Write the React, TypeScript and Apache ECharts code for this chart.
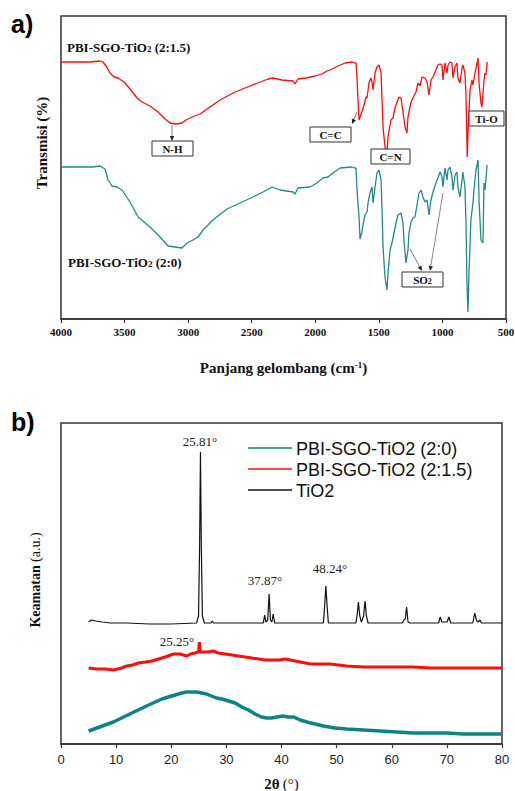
import React, { useEffect, useRef } from 'react';
import * as echarts from 'echarts';

// ---------- Panel a) FTIR ----------
const ftirXTicks = [4000, 3500, 3000, 2500, 2000, 1500, 1000, 500];

// [wavenumber cm-1, transmittance a.u.]
const ftirRed: [number, number][] = [
  [4000, 257], [3890, 257], [3772, 257], [3693, 258], [3670, 257], [3646, 253], [3615, 246], [3583, 242],
  [3552, 241], [3505, 237], [3457, 230], [3402, 221], [3363, 217], [3300, 213], [3237, 207], [3182, 200],
  [3143, 196], [3096, 195], [3048, 196], [3017, 199], [2970, 202], [2907, 205], [2828, 212], [2750, 219],
  [2647, 226], [2553, 231], [2451, 236], [2372, 240], [2333, 241], [2262, 239], [2175, 238], [2160, 235],
  [2136, 240], [2073, 241], [2002, 243], [1947, 245], [1908, 248], [1884, 249], [1837, 252], [1767, 256],
  [1711, 257], [1690, 256], [1680, 256], [1672, 242], [1664, 219], [1656, 199], [1633, 207], [1617, 214],
  [1601, 222], [1593, 221], [1578, 236], [1562, 241], [1554, 237], [1546, 229], [1530, 246], [1515, 252],
  [1499, 254], [1483, 246], [1475, 219], [1467, 192], [1452, 172], [1436, 167], [1428, 182], [1405, 199],
  [1389, 201], [1373, 211], [1357, 217], [1342, 222], [1326, 221], [1310, 207], [1294, 192], [1279, 186],
  [1271, 202], [1247, 217], [1232, 221], [1208, 227], [1192, 236], [1176, 233], [1161, 242], [1137, 241],
  [1121, 237], [1106, 224], [1090, 239], [1074, 242], [1051, 249], [1035, 254], [1019, 255], [1003, 254],
  [996, 239], [980, 256], [964, 246], [956, 254], [941, 257], [925, 256], [917, 241], [901, 252],
  [886, 256], [878, 241], [862, 236], [846, 251], [839, 254], [823, 246], [815, 226], [805, 162],
  [797, 192], [783, 229], [768, 239], [760, 234], [744, 246], [728, 256], [720, 261], [712, 236],
  [697, 216], [689, 212], [673, 239], [665, 246], [657, 244], [649, 257],
];

const ftirTeal: [number, number][] = [
  [4000, 152], [3748, 152], [3693, 153], [3654, 150], [3630, 139], [3599, 133], [3560, 132], [3520, 129],
  [3457, 117], [3394, 102], [3300, 92], [3221, 82], [3158, 73], [3103, 72], [3048, 71], [3009, 76],
  [2962, 79], [2922, 82], [2883, 89], [2805, 99], [2694, 110], [2592, 116], [2490, 122], [2411, 127],
  [2340, 132], [2277, 129], [2175, 127], [2160, 125], [2136, 131], [2042, 132], [1987, 136], [1939, 141],
  [1900, 142], [1861, 146], [1806, 151], [1711, 152], [1690, 151], [1680, 151], [1672, 129], [1656, 102],
  [1648, 80], [1633, 87], [1625, 94], [1609, 104], [1593, 107], [1585, 116], [1570, 126], [1554, 132],
  [1546, 116], [1530, 132], [1515, 146], [1499, 149], [1483, 139], [1475, 109], [1467, 72], [1452, 42],
  [1436, 29], [1428, 46], [1412, 69], [1397, 76], [1381, 86], [1365, 96], [1350, 104], [1326, 106],
  [1310, 96], [1302, 77], [1287, 56], [1271, 69], [1263, 86], [1247, 97], [1232, 101], [1216, 102],
  [1200, 114], [1184, 126], [1168, 129], [1153, 122], [1137, 117], [1121, 119], [1106, 104], [1090, 119],
  [1074, 127], [1051, 136], [1035, 141], [1019, 147], [1003, 142], [996, 132], [980, 151], [964, 139],
  [956, 149], [941, 152], [925, 142], [917, 129], [901, 144], [886, 147], [878, 132], [862, 122],
  [846, 139], [839, 147], [823, 132], [815, 99], [807, 36], [799, 7], [791, 46], [776, 99],
  [760, 116], [752, 129], [736, 149], [720, 159], [712, 119], [697, 79], [681, 76], [673, 136],
  [665, 129], [649, 154],
];

// ---------- Panel b) XRD ----------
const xrdXTicks = [0, 10, 20, 30, 40, 50, 60, 70, 80];
const xrdNames = ['PBI-SGO-TiO2 (2:0)', 'PBI-SGO-TiO2 (2:1.5)', 'TiO2'];

// [2theta, intensity a.u.]
const xrdTeal: [number, number][] = [
  [5, 13], [6.5, 16], [8, 19], [9.5, 22], [11, 26], [12.5, 30], [14, 34], [15.5, 38], [17.1, 42],
  [18.3, 45], [19.5, 47], [20.7, 49], [21.9, 51], [22.8, 52], [23.7, 52], [24.6, 52], [25.5, 51],
  [26.4, 50], [27.3, 48], [28.2, 46], [29.2, 45], [30.4, 43], [31.6, 41], [32.8, 37], [34, 34],
  [35.2, 30], [36.4, 27], [37.3, 26], [38.2, 26], [39.2, 27], [40.2, 28], [41.2, 27], [42.2, 27],
  [43.4, 24], [44.6, 22], [46.1, 20], [47.6, 18], [49.7, 16], [51.8, 15], [54.9, 14], [57.9, 13],
  [60.9, 12], [63.9, 11], [67, 11], [70, 11], [73, 10], [76, 10], [80, 10],
];

const xrdRed: [number, number][] = [
  [5, 76], [6.5, 75], [8, 75], [9.5, 74], [11, 76], [11.9, 78], [13, 79], [14, 81], [15.3, 82],
  [16.5, 83], [17.7, 85], [18.9, 87], [20.4, 90], [21.6, 90], [22.8, 88], [23.5, 90], [24.3, 91],
  [24.95, 92], [25.1, 102], [25.25, 92], [25.6, 92], [26.7, 92], [27.6, 93], [28.5, 91], [29.8, 90],
  [31, 89], [32.2, 88], [33.4, 87], [34.6, 86], [35.8, 85], [37, 84], [38.2, 84], [39.7, 84],
  [40.7, 85], [41.6, 84], [42.5, 83], [43.4, 82], [44.3, 81], [45.2, 80], [47, 80], [48.8, 80],
  [50.3, 79], [51.8, 78], [54.9, 77], [57.9, 77], [60.9, 77], [63.9, 77], [67, 76], [70, 76],
  [73, 76], [76, 76], [78, 76], [80, 76],
];

const xrdTiO2: [number, number][] = [
  [5, 122], [5.5, 124], [6.3, 123], [7.5, 122], [9, 121], [12, 121], [16, 120], [20, 120], [24.6, 121],
  [24.95, 128], [25.15, 200], [25.3, 292], [25.45, 200], [25.65, 128], [26.0, 121], [27.2, 121],
  [27.45, 123], [27.7, 121], [36.7, 121], [36.95, 129], [37.15, 122], [37.5, 124], [37.75, 150],
  [38.0, 124], [38.25, 122], [38.5, 130], [38.75, 121], [47.6, 121], [47.85, 140], [48.05, 158],
  [48.25, 140], [48.5, 121], [53.5, 121], [53.75, 130], [53.95, 142], [54.2, 128], [54.5, 122],
  [54.9, 128], [55.15, 143], [55.4, 128], [55.7, 121], [61.9, 121], [62.2, 124], [62.45, 125],
  [62.7, 137], [62.95, 122], [63.3, 121], [68.5, 121], [68.8, 127], [69.1, 122], [70.05, 122],
  [70.35, 127], [70.7, 121], [74.7, 121], [75.05, 131], [75.4, 123], [75.7, 122], [76.0, 124],
  [76.3, 121], [80, 121],
];

const SERIF = '"Times New Roman", "Liberation Serif", serif';
const SANS = 'Arial, "Liberation Sans", sans-serif';
const RED = '#ff0d0d';
const TEAL_A = '#22898a';
const TEAL_B = '#0e8381';
const XRD_COLORS = [TEAL_B, RED, '#111'];
const XRD_WIDTHS = [3.5, 3, 1.2];

function box(x: number, y: number, w: number, h: number, text: string) {
  return [
    { type: 'rect', z: 100, shape: { x, y, width: w, height: h }, style: { fill: '#fff', stroke: '#333', lineWidth: 1 } },
    {
      type: 'text', z: 101, x: x + w / 2, y: y + h / 2 + 0.5,
      style: {
        text, align: 'center', verticalAlign: 'middle',
        rich: {
          b: { fontFamily: SERIF, fontWeight: 'bold', fontSize: 11, fill: '#111' },
          s: { fontFamily: SERIF, fontWeight: 'bold', fontSize: 8, fill: '#111', verticalAlign: 'bottom' },
        },
      },
    },
  ];
}

function arrow(x1: number, y1: number, x2: number, y2: number) {
  const dx = x2 - x1, dy = y2 - y1;
  const len = Math.sqrt(dx * dx + dy * dy);
  const ux = dx / len, uy = dy / len;
  const bx = x2 - ux * 5, by = y2 - uy * 5;
  const px = -uy * 2.2, py = ux * 2.2;
  return [
    { type: 'line', z: 102, shape: { x1, y1, x2: bx, y2: by }, style: { stroke: '#666', lineWidth: 0.8 } },
    { type: 'polygon', z: 102, shape: { points: [[x2, y2], [bx + px, by + py], [bx - px, by - py]] }, style: { fill: '#222' } },
  ];
}

function peakLabel(x: number, y: number, text: string) {
  return {
    type: 'text', z: 100, x, y,
    style: { text, align: 'center', verticalAlign: 'middle', fontFamily: SERIF, fontSize: 13, fill: '#222' },
  };
}

function legendRows() {
  const out: any[] = [];
  xrdNames.forEach((n, i) => {
    const y = 448 + i * 21;
    out.push({ type: 'line', z: 100, shape: { x1: 248, y1: y, x2: 292, y2: y }, style: { stroke: XRD_COLORS[i], lineWidth: 1.5 } });
    out.push({ type: 'text', z: 100, x: 296, y: y + 0.5, style: { text: n, verticalAlign: 'middle', fontFamily: SANS, fontSize: 18, fill: '#111' } });
  });
  return out;
}

export default function App() {
  const ref = useRef<HTMLDivElement>(null);

  useEffect(() => {
    document.body.style.margin = '0';
    const chart = echarts.init(ref.current!, null, { renderer: 'svg' });

    const sampleRich = {
      b: { fontFamily: SERIF, fontWeight: 'bold', fontSize: 13, fill: '#111' },
      s: { fontFamily: SERIF, fontWeight: 'bold', fontSize: 9, fill: '#111', verticalAlign: 'bottom' },
    };

    const option: any = {
      animation: false,
      backgroundColor: '#fff',
      grid: [
        { left: 61, top: 16, width: 445, height: 303, show: true, borderColor: '#333', borderWidth: 1.5, backgroundColor: 'transparent', outerBoundsMode: 'none', containLabel: false },
        { left: 61, top: 423, width: 441, height: 321, show: true, borderColor: '#333', borderWidth: 1.5, backgroundColor: 'transparent', outerBoundsMode: 'none', containLabel: false },
      ],
      xAxis: [
        {
          type: 'value', gridIndex: 0, inverse: true,
          min: ftirXTicks[ftirXTicks.length - 1], max: ftirXTicks[0], interval: ftirXTicks[0] - ftirXTicks[1],
          axisLine: { show: true, lineStyle: { color: '#333', width: 1.5 } },
          axisTick: { show: true, inside: false, length: 4, lineStyle: { color: '#333', width: 1.2 } },
          splitLine: { show: false },
          axisLabel: { fontFamily: SERIF, fontWeight: 'bold', fontSize: 11, color: '#111', margin: 7, formatter: (v: number) => String(v) },
          name: '{b|Panjang gelombang (cm}{s|-1}{b|)}',
          nameLocation: 'middle', nameGap: 41,
          nameTextStyle: {
            rich: {
              b: { fontFamily: SERIF, fontWeight: 'bold', fontSize: 15, color: '#111' },
              s: { fontFamily: SERIF, fontWeight: 'bold', fontSize: 9, color: '#111', verticalAlign: 'top' },
            },
          },
        },
        {
          type: 'value', gridIndex: 1,
          min: xrdXTicks[0], max: xrdXTicks[xrdXTicks.length - 1], interval: xrdXTicks[1] - xrdXTicks[0],
          axisLine: { show: true, lineStyle: { color: '#333', width: 1.5 } },
          axisTick: { show: true, inside: false, length: 4, lineStyle: { color: '#333', width: 1.2 } },
          splitLine: { show: false },
          axisLabel: { fontFamily: SANS, fontSize: 13, color: '#222', margin: 9 },
          name: '{b|2θ} {n|(°)}',
          nameLocation: 'middle', nameGap: 32,
          nameTextStyle: {
            rich: {
              b: { fontFamily: SERIF, fontWeight: 'bold', fontSize: 15, color: '#111' },
              n: { fontFamily: SERIF, fontSize: 15, color: '#111' },
            },
          },
        },
      ],
      yAxis: [
        { type: 'value', gridIndex: 0, min: 0, max: 303, show: false },
        { type: 'value', gridIndex: 1, min: 0, max: 321, show: false },
      ],
      series: [
        { name: 'FTIR 2:1.5', type: 'line', xAxisIndex: 0, yAxisIndex: 0, data: ftirRed, symbol: 'none', color: RED, lineStyle: { color: RED, width: 1.3 } },
        { name: 'FTIR 2:0', type: 'line', xAxisIndex: 0, yAxisIndex: 0, data: ftirTeal, symbol: 'none', color: TEAL_A, lineStyle: { color: TEAL_A, width: 1.3 } },
        ...xrdNames.map((n, i) => ({
          name: n, type: 'line', xAxisIndex: 1, yAxisIndex: 1,
          data: [xrdTeal, xrdRed, xrdTiO2][i], symbol: 'none',
          color: XRD_COLORS[i], lineStyle: { color: XRD_COLORS[i], width: XRD_WIDTHS[i] },
        })),
      ],
      graphic: [
        { type: 'text', z: 100, x: 11, y: 24, style: { text: 'a)', font: `bold 25px ${SANS}`, fill: '#000', verticalAlign: 'middle' } },
        { type: 'text', z: 100, x: 11, y: 422, style: { text: 'b)', font: `bold 25px ${SANS}`, fill: '#000', verticalAlign: 'middle' } },
        {
          type: 'text', z: 100, x: 42, y: 143, rotation: Math.PI / 2,
          style: { text: 'Transmisi (%)', align: 'center', verticalAlign: 'middle', font: `bold 15px ${SERIF}`, fill: '#111' },
        },
        {
          type: 'text', z: 100, x: 35, y: 580, rotation: Math.PI / 2,
          style: {
            text: '{b|Keamatan} {n|(a.u.)}', align: 'center', verticalAlign: 'middle',
            rich: {
              b: { fontFamily: SERIF, fontWeight: 'bold', fontSize: 14, fill: '#111' },
              n: { fontFamily: SERIF, fontSize: 14, fill: '#111' },
            },
          },
        },
        { type: 'text', z: 100, x: 67, y: 47, style: { text: '{b|PBI-SGO-TiO}{s|2}{b| (2:1.5)}', verticalAlign: 'middle', rich: sampleRich } },
        { type: 'text', z: 100, x: 68, y: 262, style: { text: '{b|PBI-SGO-TiO}{s|2}{b| (2:0)}', verticalAlign: 'middle', rich: sampleRich } },
        ...arrow(172, 125, 172, 141),
        ...box(152, 141, 41, 15, '{b|N-H}'),
        ...arrow(357, 112, 352, 124),
        ...box(310, 127, 41, 15, '{b|C=C}'),
        ...box(371, 149, 39, 15, '{b|C=N}'),
        ...box(469, 111, 35, 15, '{b|Ti-O}'),
        ...arrow(410, 249, 422, 271),
        ...arrow(443, 193, 430, 271),
        ...box(402, 272, 41, 15, '{b|SO}{s|2}'),
        peakLabel(200, 441, '25.81°'),
        peakLabel(265, 580, '37.87°'),
        peakLabel(330, 568, '48.24°'),
        peakLabel(177, 641, '25.25°'),
        ...legendRows(),
      ],
    };

    chart.setOption(option);
    return () => chart.dispose();
  }, []);

  return <div ref={ref} style={{ width: 515, height: 791, background: '#fff' }} />;
}
